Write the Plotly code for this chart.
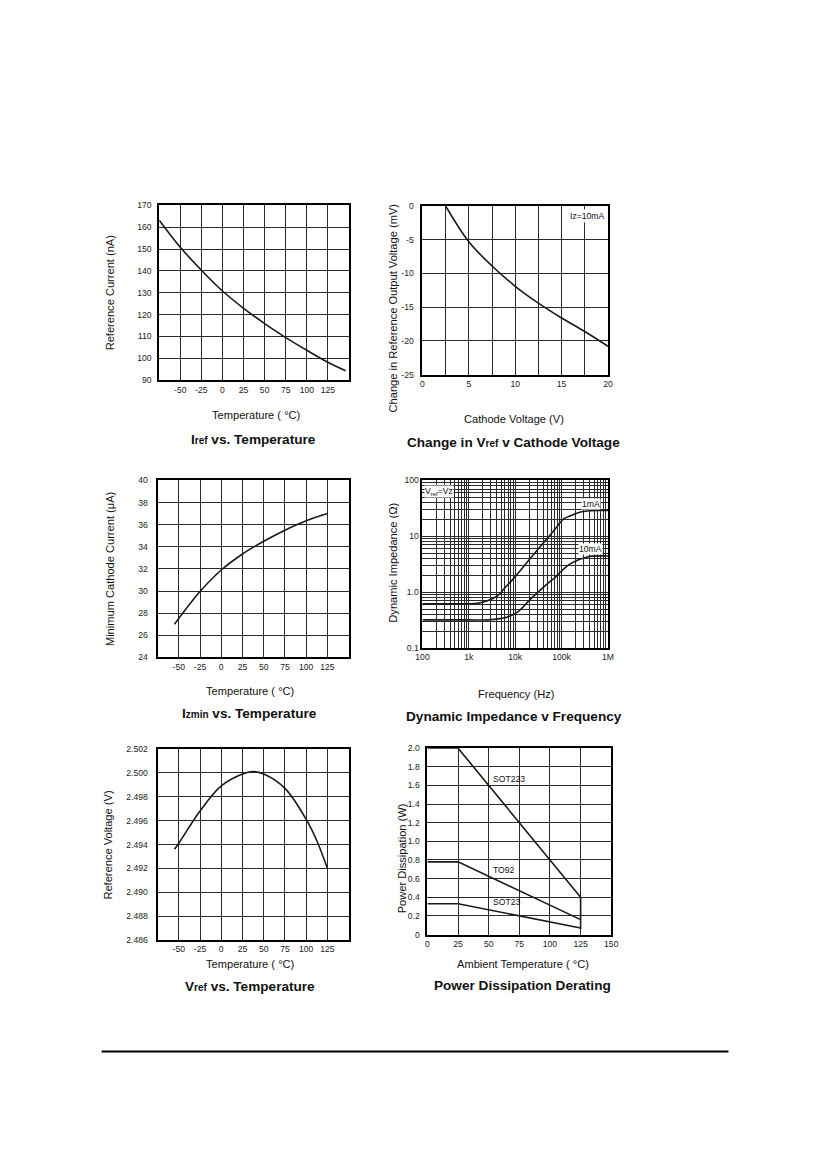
import plotly.graph_objects as go

# ---------------- data ----------------
iref_temp = [-75, -50, -25, 0, 25, 50, 75, 100, 125, 146]
iref_na = [163.2, 150.8, 140.3, 130.8, 122.9, 115.9, 109.5, 103.7, 98.2, 94.3]

cath_v = [2.5, 5, 7.5, 10, 12.5, 15, 17.5, 20]
dvref_mv = [0, -5.3, -8.9, -11.9, -14.4, -16.6, -18.6, -20.8]

izmin_temp = [-55, -25, 0, 25, 50, 75, 100, 125]
izmin_ua = [27.0, 29.95, 31.9, 33.35, 34.5, 35.5, 36.35, 37.0]

freq_1ma = [100, 1000, 1500, 2600, 4200, 6000, 10000, 20000, 42000, 70000, 112000, 160000, 257000, 684000, 1000000]
z_1ma = [0.62, 0.62, 0.63, 0.71, 0.87, 1.2, 1.9, 3.8, 7.9, 13.0, 20.7, 23.5, 27.3, 29.0, 29.0]
freq_10ma = [100, 1000, 2600, 5000, 6900, 11200, 21600, 49000, 68000, 102000, 155000, 355000, 795000, 1000000]
z_10ma = [0.32, 0.32, 0.32, 0.34, 0.36, 0.44, 0.76, 1.41, 1.76, 2.44, 3.25, 4.28, 4.47, 4.45]

vref_temp = [-55, -50, -25, 0, 25, 37, 50, 75, 100, 112, 125]
vref_v = [2.4936, 2.4941, 2.4968, 2.4989, 2.4999, 2.5001, 2.4999, 2.4987, 2.4961, 2.4944, 2.4920]

pd_temp_sot223 = [0, 25, 125, 125]
pd_sot223 = [2.0, 2.0, 0.4, 0.06]
pd_temp_to92 = [0, 25, 125]
pd_to92 = [0.78, 0.78, 0.16]
pd_temp_sot23 = [0, 25, 125]
pd_sot23 = [0.33, 0.33, 0.07]

temp_ticks = [-50, -25, 0, 25, 50, 75, 100, 125]
temp_labels = ["-50", "-25", "0", "25", "50", "75", "100", "125"]
dv_ticks = [-25, -20, -15, -10, -5, 0]
dv_labels = ["-25", "-20", "-15", "-10", "-5", "0"]
freq_ticks = [100, 1000, 10000, 100000, 1000000]
freq_labels = ["100", "1k", "10k", "100k", "1M"]
imp_ticks = [0.1, 1, 10, 100]
imp_labels = ["0.1", "1.0", "10", "100"]
pd_ticks = [0, 0.2, 0.4, 0.6, 0.8, 1.0, 1.2, 1.4, 1.6, 1.8, 2.0]
pd_labels = ["0", "0.2", "0.4", "0.6", "0.8", "1.0", "1.2", "1.4", "1.6", "1.8", "2.0"]

# ---------------- layout helpers ----------------
OFF = 8
W = 800
H = 1140
# small empirical correction for how the page lands in the screenshot
CX, SX = 2.9, 0.989
CY, SY = 3.4, 0.9932


def px(x):
    return ((x - CX) / SX - OFF) / W


def py(y):
    return 1 - ((y - CY) / SY - OFF) / H


FONT = "Liberation Sans, Arial, sans-serif"
INK = "#1a1a1a"
TICKFONT = dict(family=FONT, size=8.6, color="#222")


def axis(**kw):
    base = dict(showline=True, linecolor="black", linewidth=2, mirror=True,
                showgrid=True, gridcolor="#2a2a2a", gridwidth=1, zeroline=False,
                ticks="", tickfont=TICKFONT, fixedrange=True)
    base.update(kw)
    return base


line_style = dict(color=INK, width=1.6)

fig = go.Figure()
fig.add_trace(go.Scatter(x=iref_temp, y=iref_na, mode="lines", line=dict(**line_style, shape="spline"),
                         xaxis="x", yaxis="y", showlegend=False))
fig.add_trace(go.Scatter(x=cath_v, y=dvref_mv, mode="lines", line=dict(**line_style, shape="spline"),
                         xaxis="x2", yaxis="y2", showlegend=False))
fig.add_trace(go.Scatter(x=izmin_temp, y=izmin_ua, mode="lines", line=dict(**line_style, shape="spline"),
                         xaxis="x3", yaxis="y3", showlegend=False))
fig.add_trace(go.Scatter(x=freq_1ma, y=z_1ma, mode="lines", line=dict(**line_style, shape="spline"),
                         xaxis="x4", yaxis="y4", showlegend=False))
fig.add_trace(go.Scatter(x=freq_10ma, y=z_10ma, mode="lines", line=dict(**line_style, shape="spline"),
                         xaxis="x4", yaxis="y4", showlegend=False))
fig.add_trace(go.Scatter(x=vref_temp, y=vref_v, mode="lines", line=dict(**line_style, shape="spline"),
                         xaxis="x5", yaxis="y5", showlegend=False))
fig.add_trace(go.Scatter(x=pd_temp_sot223, y=pd_sot223, mode="lines", line=line_style,
                         xaxis="x6", yaxis="y6", showlegend=False))
fig.add_trace(go.Scatter(x=pd_temp_to92, y=pd_to92, mode="lines", line=line_style,
                         xaxis="x6", yaxis="y6", showlegend=False))
fig.add_trace(go.Scatter(x=pd_temp_sot23, y=pd_sot23, mode="lines", line=line_style,
                         xaxis="x6", yaxis="y6", showlegend=False))

minor_log_x = [m * 10 ** e for e in range(2, 6) for m in range(2, 10)]
minor_log_y = [m * 10 ** e for e in range(-1, 2) for m in range(2, 10)]

fig.update_layout(
    width=W, height=H, margin=dict(l=0, r=0, t=0, b=0),
    paper_bgcolor="white", plot_bgcolor="white",
    font=dict(family=FONT, color="#111"),
    xaxis=axis(domain=[px(156), px(347)], range=[-75, 150], tickmode="array", tickvals=temp_ticks,
               ticktext=temp_labels, anchor="y"),
    yaxis=axis(domain=[py(379.3), py(204)], range=[90, 170], dtick=10, anchor="x", ticklabelstandoff=4),
    xaxis2=axis(domain=[px(421), px(607.7)], range=[0, 20], dtick=5, anchor="y2",
                minor=dict(dtick=2.5, showgrid=True, gridcolor="#2a2a2a", gridwidth=1, ticks="")),
    yaxis2=axis(domain=[py(373.7), py(204.7)], range=[-25, 0], tickmode="array", tickvals=dv_ticks,
                ticktext=dv_labels, anchor="x2", ticklabelstandoff=5),
    xaxis3=axis(domain=[px(154.3), px(346.7)], range=[-75, 150], tickmode="array", tickvals=temp_ticks,
                ticktext=temp_labels, anchor="y3"),
    yaxis3=axis(domain=[py(657), py(479.7)], range=[24, 40], dtick=2, anchor="x3", ticklabelstandoff=6),
    xaxis4=axis(domain=[px(421), px(607.7)], type="log", range=[2, 6], tickmode="array",
                tickvals=freq_ticks, ticktext=freq_labels, anchor="y4",
                minor=dict(tickmode="array", tickvals=minor_log_x, showgrid=True, gridcolor="#2a2a2a",
                           gridwidth=1, ticks="")),
    yaxis4=axis(domain=[py(647.7), py(479.7)], type="log", range=[-1, 2], tickmode="array",
                tickvals=imp_ticks, ticktext=imp_labels, anchor="x4", ticklabelstandoff=0,
                minor=dict(tickmode="array", tickvals=minor_log_y, showgrid=True, gridcolor="#2a2a2a",
                           gridwidth=1, ticks="")),
    xaxis5=axis(domain=[px(154.3), px(346.7)], range=[-75, 150], tickmode="array", tickvals=temp_ticks,
                ticktext=temp_labels, anchor="y5"),
    yaxis5=axis(domain=[py(940.3), py(748.7)], range=[2.486, 2.502], dtick=0.002, tickformat=".3f",
                anchor="x5", ticklabelstandoff=6),
    xaxis6=axis(domain=[px(426), px(611)], range=[0, 150], dtick=25, anchor="y6"),
    yaxis6=axis(domain=[py(934.7), py(748)], range=[0, 2.0], tickmode="array", tickvals=pd_ticks,
                ticktext=pd_labels, anchor="x6", ticklabelstandoff=4),
)

ann = []


def text(x, y, s, size=11.1, angle=0, xanchor="center", yanchor="middle"):
    ann.append(dict(x=px(x), y=py(y), xref="paper", yref="paper", text=s, showarrow=False,
                    textangle=angle, xanchor=xanchor, yanchor=yanchor,
                    font=dict(family=FONT, size=size, color="#111")))


SMALL = "<span style='font-size:10px'>"
# axis titles
text(253, 414, "Temperature ( °C)")
text(106.7, 292, "Reference Current (nA)", angle=-90)
text(513, 417.7, "Cathode Voltage (V)")
text(391.7, 307, "Change in Reference Output Voltage (mV)", angle=-90)
text(247.3, 691, "Temperature ( °C)")
text(106.7, 568.3, "Minimum Cathode Current (μA)", angle=-90)
text(515, 693.3, "Frequency (Hz)")
text(391.7, 561.7, "Dynamic Impedance (Ω)", angle=-90)
text(247.3, 964.7, "Temperature ( °C)")
text(104.3, 844.7, "Reference Voltage (V)", angle=-90)
text(521.7, 964.7, "Ambient Temperature ( °C)")
text(400.7, 858, "Power Dissipation (W)", angle=-90)

# panel titles
text(250.7, 438.3, "<b>I" + SMALL + "ref</span> vs. Temperature</b>", size=13.6)
text(513, 441.7, "<b>Change in V" + SMALL + "ref</span> v Cathode Voltage</b>", size=13.6)
text(247.3, 713.3, "<b>I" + SMALL + "zmin</span> vs. Temperature</b>", size=13.6)
text(513.3, 716.7, "<b>Dynamic Impedance v Frequency</b>", size=13.6)
text(247.3, 986.3, "<b>V" + SMALL + "ref</span> vs. Temperature</b>", size=13.6)
text(521.7, 985.3, "<b>Power Dissipation Derating</b>", size=13.6)

fig.update_layout(annotations=ann)

LBL = dict(family=FONT, size=8.6, color="#111")
# in-plot labels (data coordinates)
fig.add_annotation(x=19.8, y=-1.5, xref="x2", yref="y2", text="Iz=10mA", showarrow=False,
                   xanchor="right", bgcolor="white", font=LBL)
fig.add_annotation(x=2.03, y=1.81, xref="x4", yref="y4", text="V<sub>ref</sub>=Vz", showarrow=False,
                   xanchor="left", bgcolor="white", borderpad=0, font=LBL)
fig.add_annotation(x=5.64, y=1.58, xref="x4", yref="y4", text="1mA", showarrow=False,
                   bgcolor="white", borderpad=0, font=LBL)
fig.add_annotation(x=5.62, y=0.78, xref="x4", yref="y4", text="10mA", showarrow=False,
                   bgcolor="white", borderpad=0, font=LBL)
fig.add_annotation(x=52, y=1.67, xref="x6", yref="y6", text="SOT223", showarrow=False, xanchor="left", font=LBL)
fig.add_annotation(x=52, y=0.69, xref="x6", yref="y6", text="TO92", showarrow=False, xanchor="left", font=LBL)
fig.add_annotation(x=52, y=0.345, xref="x6", yref="y6", text="SOT23", showarrow=False, xanchor="left", font=LBL)

# footer rule
fig.add_shape(type="line", xref="paper", yref="paper", x0=px(98), x1=px(729), y0=py(1052), y1=py(1052),
              line=dict(color="black", width=2))

fig.write_html("out.html")
